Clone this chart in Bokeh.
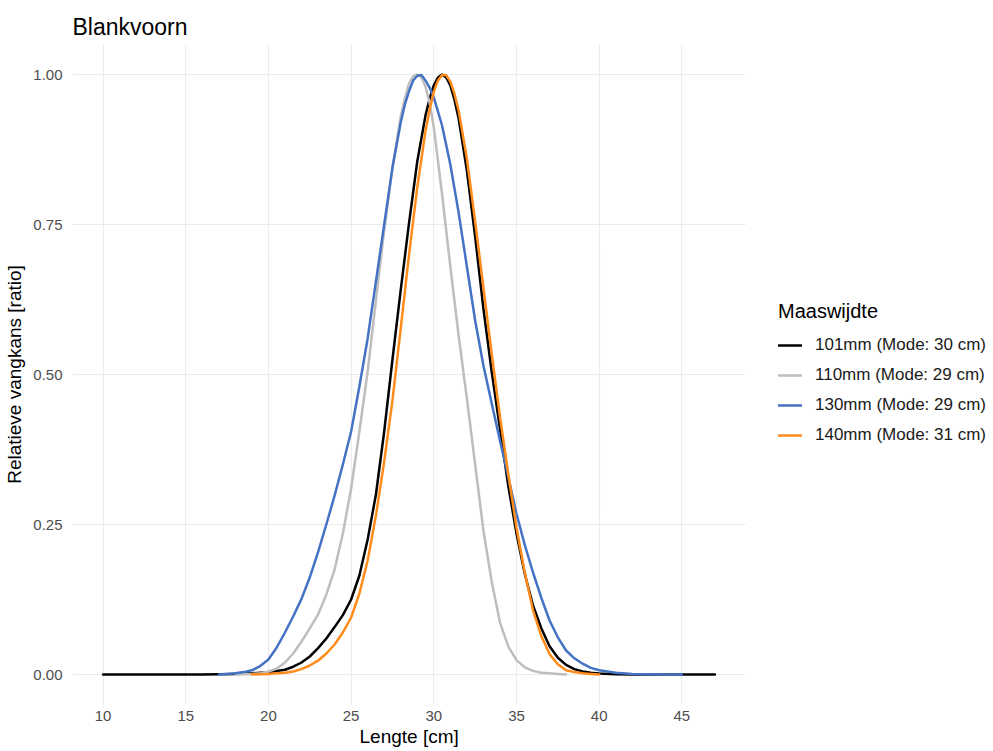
from bokeh.plotting import figure
from bokeh.models import (Range1d, FixedTicker, NumeralTickFormatter,
                          Legend, LegendItem, Title)
from bokeh.embed import file_html
from bokeh.resources import INLINE

# ---- data ----
series_names = ["101mm (Mode: 30 cm)", "110mm (Mode: 29 cm)",
                "130mm (Mode: 29 cm)", "140mm (Mode: 31 cm)"]
series_colors = ["#000000", "#BEBEBE", "#4472C4", "#FF8C1A"]

x_101 = [10, 11, 12, 13, 14, 15, 16, 17, 18, 19, 19.5, 20, 20.5, 21, 21.5, 22,
         22.5, 23, 23.5, 24, 24.5, 25, 25.5, 26, 26.5, 27, 27.5, 28, 28.5, 29,
         29.5, 29.75, 30, 30.25, 30.5, 30.75, 31, 31.25, 31.5, 32, 32.5, 33,
         33.5, 34, 34.5, 35, 35.5, 36, 36.5, 37, 37.5, 38, 38.5, 39, 39.5, 40,
         41, 42, 43, 44, 45, 46, 47]
y_101 = [0, 0, 0, 0, 0, 0, 0, 0.0005, 0.001, 0.002, 0.003, 0.004, 0.006, 0.008,
         0.013, 0.02, 0.03, 0.044, 0.06, 0.079, 0.099, 0.125, 0.165, 0.225,
         0.3, 0.405, 0.525, 0.641, 0.752, 0.855, 0.932, 0.96, 0.982, 0.995, 1.0,
         0.995, 0.982, 0.958, 0.927, 0.84, 0.73, 0.61, 0.505, 0.41, 0.315,
         0.235, 0.168, 0.115, 0.077, 0.047, 0.028, 0.016, 0.009, 0.005, 0.003,
         0.0015, 0.0005, 0, 0, 0, 0, 0, 0]

x_110 = [18, 18.5, 19, 19.5, 20, 20.5, 21, 21.5, 22, 22.5, 23, 23.5, 24, 24.5,
         25, 25.5, 26, 26.5, 27, 27.5, 28, 28.25, 28.5, 28.75, 29, 29.25, 29.5,
         29.75, 30, 30.5, 31, 31.5, 32, 32.5, 33, 33.5, 34, 34.5, 35, 35.5, 36,
         36.5, 37, 37.5, 38]
y_110 = [0, 0.0005, 0.001, 0.002, 0.005, 0.01, 0.02, 0.035, 0.055, 0.077,
         0.1, 0.133, 0.175, 0.235, 0.31, 0.405, 0.505, 0.623, 0.74, 0.845, 0.93,
         0.96, 0.985, 0.997, 1.0, 0.995, 0.98, 0.952, 0.912, 0.8, 0.68, 0.565,
         0.46, 0.35, 0.24, 0.155, 0.087, 0.047, 0.024, 0.012, 0.006, 0.003,
         0.002, 0.001, 0]

x_130 = [17, 17.5, 18, 18.5, 19, 19.5, 20, 20.5, 21, 21.5, 22, 22.5, 23, 23.5,
         24, 24.5, 25, 25.5, 26, 26.5, 27, 27.5, 28, 28.25, 28.5, 28.75, 29,
         29.25, 29.5, 29.75, 30, 30.5, 31, 31.5, 32, 32.5, 33, 33.5, 34, 34.5,
         35, 35.5, 36, 36.5, 37, 37.5, 38, 38.5, 39, 39.5, 40, 40.5, 41, 42, 43,
         44, 45]
y_130 = [0, 0.001, 0.002, 0.004, 0.007, 0.014, 0.025, 0.045, 0.07, 0.097,
         0.126, 0.162, 0.204, 0.25, 0.298, 0.35, 0.405, 0.48, 0.56, 0.655, 0.75,
         0.845, 0.92, 0.95, 0.972, 0.99, 0.998, 0.999, 0.99, 0.978, 0.962,
         0.915, 0.85, 0.77, 0.68, 0.59, 0.515, 0.452, 0.39, 0.33, 0.268, 0.216,
         0.17, 0.128, 0.09, 0.062, 0.04, 0.027, 0.018, 0.011, 0.007, 0.005,
         0.003, 0.001, 0.0003, 0, 0]

x_140 = [19, 19.5, 20, 20.5, 21, 21.5, 22, 22.5, 23, 23.5, 24, 24.5, 25, 25.5,
         26, 26.5, 27, 27.5, 28, 28.5, 29, 29.5, 29.75, 30, 30.25, 30.5, 30.75,
         31, 31.25, 31.5, 32, 32.5, 33, 33.5, 34, 34.5, 35, 35.5, 36, 36.5, 37,
         37.5, 38, 38.5, 39, 39.5, 40]
y_140 = [0, 0.0005, 0.001, 0.002, 0.003, 0.005, 0.009, 0.015, 0.023, 0.035,
         0.05, 0.07, 0.095, 0.135, 0.19, 0.265, 0.355, 0.457, 0.577, 0.699,
         0.812, 0.906, 0.942, 0.971, 0.99, 0.999, 0.999, 0.988, 0.968, 0.94,
         0.86, 0.755, 0.645, 0.535, 0.43, 0.335, 0.245, 0.17, 0.107, 0.064,
         0.034, 0.017, 0.007, 0.004, 0.002, 0.001, 0]

x_ticks = [10, 15, 20, 25, 30, 35, 40, 45]
y_ticks = [0, 0.25, 0.5, 0.75, 1.0]

title_text = "Blankvoorn"
x_title = "Lengte [cm]"
y_title = "Relatieve vangkans [ratio]"
legend_title = "Maaswijdte"

FONT = "Liberation Sans"

xs = [x_101, x_110, x_130, x_140]
ys = [y_101, y_110, y_130, y_140]

# panel limits as ggplot computes them (5% expansion of the data range)
x_min = min(min(v) for v in xs)
x_max = max(max(v) for v in xs)
x_pad = 0.05 * (x_max - x_min)
x_lo, x_hi = x_min - x_pad, x_max + x_pad
y_lo, y_hi = -0.05, 1.05

# layout: the data panel is 673 px wide; the frame runs on to the right edge
# so that the legend can sit inside it without being clipped
W, H = 993, 751
LEFT, TOP, BOTTOM = 72, 44, 47
PANEL_W = 673
frame_w = W - LEFT
x_end = x_lo + (x_hi - x_lo) * frame_w / PANEL_W

p = figure(width=W, height=H, output_backend="svg", toolbar_location=None,
           x_range=Range1d(x_lo, x_end), y_range=Range1d(y_lo, y_hi),
           min_border_left=LEFT, min_border_right=0, min_border_top=TOP,
           min_border_bottom=BOTTOM)
p.title.text = title_text
p.title.align = "left"
p.title.text_font = FONT
p.title.text_font_size = "23px"
p.title.text_font_style = "normal"
p.title.text_color = "#000000"
p.title.offset = 0
p.title.standoff = 10

p.outline_line_color = None
p.background_fill_color = "white"
p.border_fill_color = "white"

for ax in (p.xaxis[0], p.yaxis[0]):
    ax.axis_line_color = None
    ax.major_tick_line_color = None
    ax.minor_tick_line_color = None
    ax.major_tick_out = 0
    ax.major_tick_in = 0
    ax.major_label_text_font = FONT
    ax.major_label_text_font_size = "15px"
    ax.major_label_text_color = "#4D4D4D"
    ax.axis_label_text_font = FONT
    ax.axis_label_text_font_size = "19px"
    ax.axis_label_text_font_style = "normal"
    ax.axis_label_text_color = "#000000"

p.yaxis[0].axis_label = y_title
p.xaxis[0].ticker = FixedTicker(ticks=x_ticks)
p.yaxis[0].ticker = FixedTicker(ticks=y_ticks)
p.yaxis[0].formatter = NumeralTickFormatter(format="0.00")
p.xaxis[0].major_label_standoff = 6
p.yaxis[0].major_label_standoff = 10
p.yaxis[0].axis_label_standoff = 5

# x axis title centred under the data panel
p.add_layout(Title(text=x_title, align="left", offset=287, standoff=0,
                   text_font=FONT, text_font_size="19px",
                   text_font_style="normal", text_color="#000000"), "below")

# grid
p.xgrid.ticker = FixedTicker(ticks=x_ticks)
p.xgrid[0].grid_line_color = "#EBEBEB"
p.xgrid[0].grid_line_width = 1.1
p.ygrid[0].grid_line_color = None
p.segment(x0=[x_lo] * len(y_ticks), y0=y_ticks, x1=[x_hi] * len(y_ticks),
          y1=y_ticks, line_color="#EBEBEB", line_width=1.1)

items = []
for xv, yv, name, col in zip(xs, ys, series_names, series_colors):
    r = p.line(xv, yv, line_color=col, line_width=2.5, line_join="round",
               line_cap="round")
    items.append(LegendItem(label=name, renderers=[r]))

legend = Legend(items=items, title=legend_title,
                location=(778 - LEFT, 259),
                orientation="vertical", border_line_color=None,
                background_fill_alpha=0, padding=0, margin=0, spacing=10,
                glyph_width=24, glyph_height=20, label_height=20,
                label_standoff=13, title_standoff=12,
                label_text_font=FONT, label_text_font_size="17px",
                label_text_color="#1A1A1A",
                title_text_font=FONT, title_text_font_size="20px",
                title_text_font_style="normal", title_text_color="#000000")
p.add_layout(legend, "center")

open("out.html", "w").write(file_html(p, INLINE))
